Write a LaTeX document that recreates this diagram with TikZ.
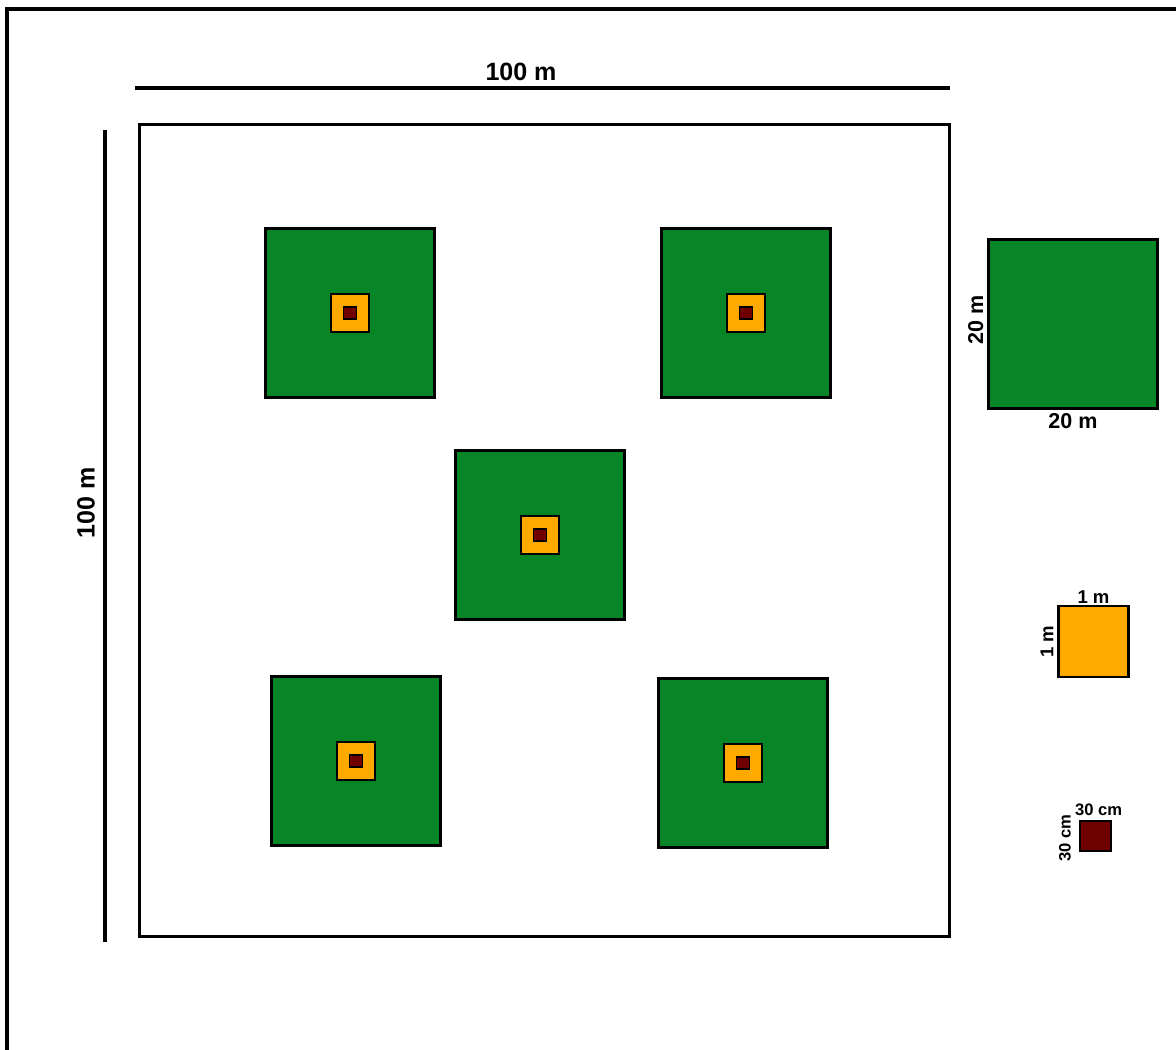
\documentclass[tikz,border=0pt]{standalone}
\usepackage{fontspec}
\setmainfont{Liberation Sans}
\definecolor{plotgreen}{RGB}{7,133,39}
\definecolor{plotorange}{RGB}{255,170,0}
\definecolor{plotred}{RGB}{110,0,0}
\tikzset{
  dimline/.style={line width=2.2pt, draw=black},
  plotbox/.style={draw=black, line width=1.7pt, inner sep=0pt, outer sep=0pt},
  greenplot/.style={plotbox, fill=plotgreen, minimum width=4.225cm, minimum height=4.225cm},
  orangeplot/.style={plotbox, fill=plotorange, minimum width=0.95cm, minimum height=0.95cm},
  redplot/.style={plotbox, line width=0.9pt, fill=plotred, minimum width=0.32cm, minimum height=0.3cm},
  lab/.style={font=\bfseries, inner sep=0pt}
}
\begin{document}
\begin{tikzpicture}[x=0.025cm, y=-0.025cm]
\useasboundingbox (0,0) rectangle (1176,1050);
% outer frame (open on right and bottom)
\coordinate (fbl) at (7,1052);
\coordinate (ftl) at (7,9);
\coordinate (ftr) at (1178,9);
\draw[dimline] (fbl) -- (ftl) -- (ftr);
% dimension lines
\coordinate (tA) at (135,88);
\coordinate (tB) at (950,88);
\draw[dimline] (tA) -- (tB);
\node[lab, font=\bfseries\fontsize{17.8}{20}\selectfont] (t100) at (521,72) {100 m};
\coordinate (lA) at (105,130);
\coordinate (lB) at (105,942);
\draw[dimline] (lA) -- (lB);
\node[lab, rotate=90, font=\bfseries\fontsize{17.8}{20}\selectfont] (l100) at (86,503) {100 m};
% main plot
\node[plotbox, line width=2pt, minimum width=20.225cm, minimum height=20.275cm] (main) at (544.5,530.5) {};
% subplots
\foreach \n/\cx/\cy in {a/350/313, b/746/313, c/540/535, d/356/761, e/743/763}{
  \node[greenplot] (g\n) at (\cx,\cy) {};
  \node[orangeplot] (o\n) at (g\n.center) {};
  \node[redplot] (r\n) at (o\n.center) {};
}
% legend
\node[greenplot] (lg) at (1073,324) {};
\node[lab, rotate=90, font=\bfseries\fontsize{15.3}{18}\selectfont, anchor=south] (lgl) at ([xshift=-0.12cm,yshift=0.1cm]lg.west) {20 m};
\node[lab, font=\bfseries\fontsize{15.3}{18}\selectfont, anchor=north] (lgb) at ([yshift=-0.12cm]lg.south) {20 m};
\node[plotbox, fill=plotorange, minimum width=1.75cm, minimum height=1.775cm] (lo) at (1093.5,641.5) {};
\node[lab, font=\bfseries\fontsize{13.2}{16}\selectfont, anchor=south] (lot) at ([yshift=0.06cm]lo.north) {1 m};
\node[lab, rotate=90, font=\bfseries\fontsize{13.2}{16}\selectfont, anchor=south] (lol) at ([xshift=-0.12cm]lo.west) {1 m};
\node[plotbox, fill=plotred, minimum width=0.775cm, minimum height=0.75cm] (lr) at (1095.5,836) {};
\node[lab, font=\bfseries\fontsize{11.8}{14}\selectfont, anchor=south] (lrt) at ([xshift=0.08cm,yshift=0.12cm]lr.north) {30 cm};
\node[lab, rotate=90, font=\bfseries\fontsize{11.8}{14}\selectfont, anchor=south] (lrl) at ([xshift=-0.22cm, yshift=-0.05cm]lr.west) {30 cm};
\end{tikzpicture}
\end{document}
